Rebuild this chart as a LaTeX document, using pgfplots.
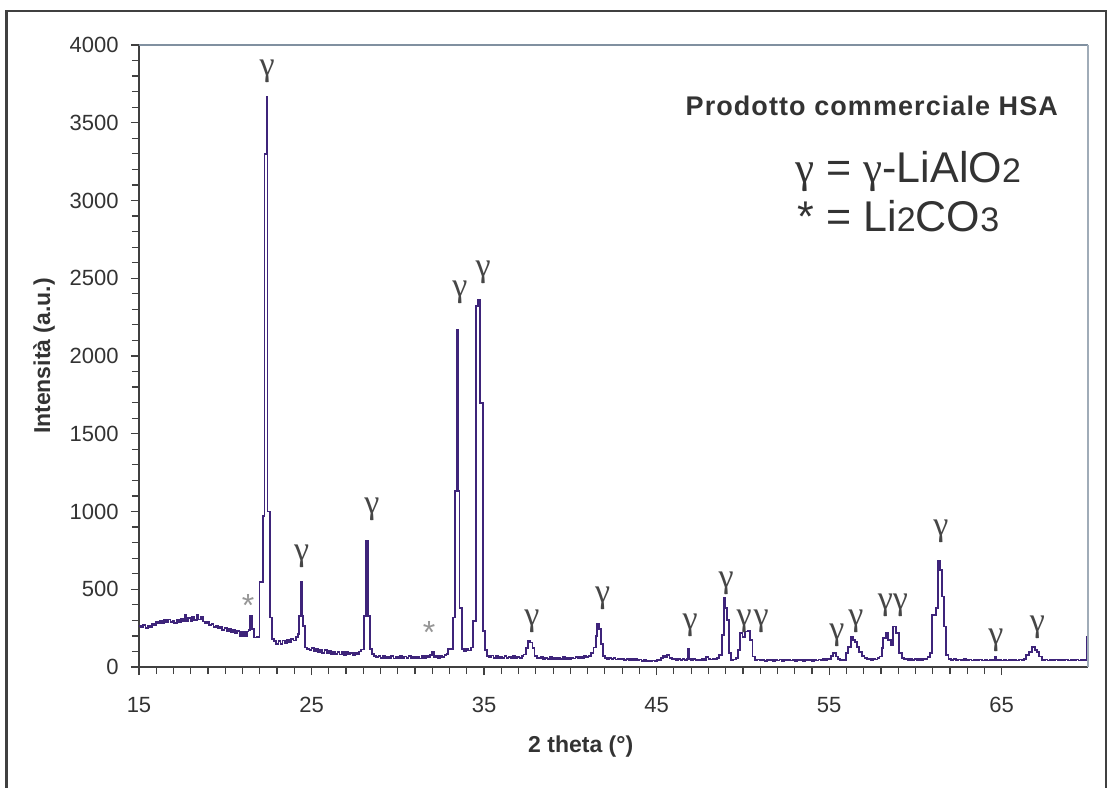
\documentclass[border=0pt]{standalone}
\usepackage{fontspec}
\setmainfont{Liberation Sans}
\newfontfamily\greekfont{Liberation Serif}
\usepackage{pgfplots}
\pgfplotsset{compat=1.18}

\definecolor{xrdline}{RGB}{62,36,122}
\definecolor{txtgray}{RGB}{51,51,51}
\definecolor{labgray}{RGB}{70,70,70}
\definecolor{stargray}{RGB}{150,150,150}
\definecolor{frametop}{RGB}{128,144,160}
\definecolor{frameright}{RGB}{160,172,184}

\newcommand{\gam}{{\greekfont γ}}
\newcommand{\glab}[2]{\node[labgray,font=\fontsize{17}{17}\selectfont\greekfont,inner sep=0pt] at (axis cs:#1,#2) {γ};}
\newcommand{\slab}[2]{\node[stargray,font=\fontsize{16}{16}\selectfont,inner sep=0pt] at (axis cs:#1,#2) {*};}

\begin{document}
\begin{tikzpicture}[x=0.5pt,y=0.5pt]
\useasboundingbox (0,0) rectangle (1112,787);
\draw[line width=1.1pt,black!75] (6.5,-30) rectangle (1106,776);
\begin{axis}[
    at={(69.5pt,60pt)}, anchor=south west,
    scale only axis,
    width=474.5pt, height=311pt,
    xmin=15, xmax=70,
    ymin=0, ymax=4000,
    axis x line*=bottom,
    axis y line*=left,
    axis line style={black!75, line width=0.8pt},
    xtick={15,25,35,45,55,65},
    minor x tick num=9,
    ytick={0,500,...,4000},
    minor y tick num=4,
    tick align=outside,
    major tick length=4pt,
    minor tick length=3.5pt,
    tick style={black!75, line width=0.6pt},
    scaled y ticks=false,
    /pgf/number format/1000 sep={},
    /pgf/number format/assume math mode=true,
    tick label style={txtgray, font=\fontsize{11}{13}\selectfont, inner sep=0pt},
    xticklabel style={anchor=north, yshift=-11pt},
    yticklabel style={anchor=east, xshift=-6pt},
    clip=false,
]
\addplot[const plot, color=xrdline, line width=0.9pt] coordinates {
(15.00,262) (15.12,255) (15.25,268) (15.38,252) (15.50,265) (15.62,258) (15.75,275) (15.88,268)
(16.00,290) (16.10,280) (16.22,298) (16.35,283) (16.45,300) (16.58,286) (16.70,305) (16.82,288)
(16.95,298) (17.05,285) (17.18,305) (17.30,290) (17.42,312) (17.55,295) (17.65,335) (17.72,298)
(17.85,315) (17.98,292) (18.08,320) (18.20,300) (18.35,338) (18.45,305) (18.58,325) (18.70,292)
(18.82,280) (18.95,288) (19.08,268) (19.20,275) (19.32,258) (19.45,266) (19.58,250) (19.70,258)
(19.82,240) (19.95,252) (20.08,232) (20.20,246) (20.32,225) (20.45,238) (20.58,218) (20.70,230)
(20.82,196) (20.90,226) (21.00,196) (21.08,226) (21.18,198) (21.25,228) (21.35,240) (21.45,330)
(21.55,245) (21.65,190) (21.85,195) (21.98,545) (22.18,970) (22.27,3300) (22.42,3665) (22.45,1000)
(22.58,318) (22.70,180) (22.82,165) (22.95,150) (23.08,168) (23.20,148) (23.32,170) (23.45,152)
(23.58,172) (23.70,160) (23.82,178) (23.95,170) (24.08,192) (24.20,210) (24.28,330) (24.38,547)
(24.45,330) (24.52,264) (24.62,125) (24.75,118) (24.88,108) (25.00,122) (25.12,104) (25.25,116)
(25.38,96) (25.50,112) (25.62,92) (25.75,108) (25.88,88) (26.00,104) (26.12,85) (26.25,100)
(26.38,82) (26.50,98) (26.62,80) (26.75,96) (26.88,78) (27.00,94) (27.12,80) (27.25,92)
(27.38,78) (27.50,90) (27.62,84) (27.75,100) (27.88,112) (28.02,330) (28.16,812) (28.28,330)
(28.38,115) (28.50,82) (28.62,70) (28.75,66) (28.88,72) (29.00,58) (29.12,70) (29.25,56)
(29.38,68) (29.50,58) (29.62,72) (29.75,55) (29.88,66) (30.00,58) (30.12,70) (30.25,55)
(30.38,68) (30.50,60) (30.62,72) (30.75,56) (30.88,68) (31.00,58) (31.12,66) (31.25,55)
(31.38,70) (31.50,60) (31.62,72) (31.75,62) (31.88,75) (32.00,100) (32.08,65) (32.20,74)
(32.32,60) (32.45,70) (32.58,62) (32.70,78) (32.82,85) (32.92,114) (33.18,318) (33.32,1130)
(33.43,2166) (33.47,1130) (33.57,382) (33.70,114) (33.82,104) (33.95,118) (34.08,106) (34.22,125)
(34.35,296) (34.52,2320) (34.64,2360) (34.76,1700) (34.92,232) (35.05,110) (35.19,71) (35.30,62)
(35.42,74) (35.55,58) (35.68,70) (35.80,56) (35.92,66) (36.05,60) (36.18,72) (36.30,56)
(36.42,66) (36.55,58) (36.68,70) (36.80,55) (36.92,66) (37.05,60) (37.18,72) (37.28,80)
(37.42,120) (37.55,167) (37.68,157) (37.80,120) (37.92,71) (38.05,60) (38.18,55) (38.30,62)
(38.42,52) (38.55,60) (38.68,54) (38.80,62) (38.92,52) (39.05,58) (39.18,50) (39.30,60)
(39.42,54) (39.55,64) (39.68,52) (39.80,58) (39.92,52) (40.05,60) (40.18,55) (40.30,62)
(40.42,56) (40.55,66) (40.68,58) (40.80,70) (40.92,62) (41.05,72) (41.20,90) (41.34,125)
(41.48,200) (41.56,275) (41.65,243) (41.76,150) (41.88,71) (42.00,58) (42.12,52) (42.25,60)
(42.38,50) (42.50,56) (42.62,48) (42.75,55) (42.88,48) (43.00,54) (43.12,46) (43.25,52)
(43.38,46) (43.50,50) (43.62,44) (43.75,50) (43.88,42) (44.00,48) (44.12,40) (44.25,46)
(44.38,38) (44.50,40) (44.62,36) (44.75,42) (44.88,40) (45.00,48) (45.12,44) (45.25,58)
(45.38,70) (45.50,62) (45.62,78) (45.75,60) (45.88,50) (46.00,55) (46.12,46) (46.25,52)
(46.38,44) (46.50,50) (46.62,46) (46.75,52) (46.80,114) (46.87,52) (47.00,46) (47.12,50)
(47.25,44) (47.38,48) (47.50,44) (47.62,50) (47.75,46) (47.88,62) (48.00,52) (48.12,48)
(48.25,54) (48.38,50) (48.50,58) (48.62,77) (48.78,206) (48.90,442) (48.98,378) (49.08,303)
(49.18,88) (49.32,45) (49.45,48) (49.58,60) (49.70,110) (49.84,217) (49.98,191) (50.12,228)
(50.28,234) (50.42,174) (50.56,67) (50.70,45) (50.85,48) (51.00,42) (51.12,46) (51.25,40)
(51.38,46) (51.50,42) (51.62,48) (51.75,40) (51.88,46) (52.00,42) (52.12,48) (52.25,40)
(52.38,46) (52.50,42) (52.62,48) (52.75,42) (52.88,46) (53.00,40) (53.12,46) (53.25,42)
(53.38,48) (53.50,40) (53.62,44) (53.75,42) (53.88,48) (54.00,40) (54.12,46) (54.25,42)
(54.38,48) (54.50,44) (54.62,50) (54.75,44) (54.88,50) (55.00,52) (55.12,70) (55.22,88)
(55.38,67) (55.50,52) (55.62,46) (55.80,45) (55.98,90) (56.10,131) (56.25,195) (56.38,175)
(56.50,163) (56.62,130) (56.75,99) (56.90,72) (57.05,56) (57.18,48) (57.30,52) (57.42,46)
(57.55,52) (57.68,48) (57.80,56) (57.92,67) (58.05,120) (58.12,185) (58.27,217) (58.42,174)
(58.58,142) (58.72,260) (58.88,217) (59.05,88) (59.20,56) (59.32,48) (59.45,52) (59.58,46)
(59.70,50) (59.82,46) (59.95,50) (60.08,45) (60.20,50) (60.32,46) (60.45,49) (60.58,52)
(60.70,62) (60.82,88) (60.98,335) (61.18,378) (61.32,685) (61.40,625) (61.52,453) (61.64,260)
(61.78,77) (61.92,49) (62.05,45) (62.20,50) (62.35,44) (62.50,48) (62.65,44) (62.80,50)
(62.95,44) (63.10,48) (63.25,42) (63.40,46) (63.55,44) (63.70,48) (63.85,42) (64.00,46)
(64.15,42) (64.30,46) (64.45,44) (64.60,67) (64.66,44) (64.80,46) (64.95,42) (65.10,46)
(65.25,42) (65.40,48) (65.55,44) (65.70,46) (65.85,42) (66.00,48) (66.15,44) (66.30,50)
(66.42,77) (66.58,99) (66.75,131) (66.92,110) (67.05,99) (67.18,67) (67.32,45) (67.50,48)
(67.65,42) (67.80,46) (67.95,44) (68.10,48) (68.25,42) (68.40,46) (68.55,44) (68.70,48)
(68.85,42) (69.00,46) (69.15,44) (69.30,48) (69.45,42) (69.60,46) (69.75,44) (69.92,195)
(69.97,142) (70.00,142)
};
% top and right frame of the plot area
\draw[frametop, line width=0.9pt] (rel axis cs:0,1) -- (rel axis cs:1,1);
\draw[frameright, line width=1.1pt] (rel axis cs:1,0) -- (rel axis cs:1,1);
% peak labels
\glab{22.42}{3833}
\glab{24.43}{715}
\glab{28.5}{1011}
\glab{33.6}{2409}
\glab{34.94}{2538}
\glab{37.77}{292}
\glab{41.87}{442}
\glab{46.94}{270}
\glab{49.03}{540}
\glab{50.07}{296}
\glab{51.06}{296}
\glab{55.45}{206}
\glab{56.55}{296}
\glab{58.25}{399}
\glab{59.12}{399}
\glab{61.47}{870}
\glab{64.66}{174}
\glab{67.06}{258}
\slab{21.32}{393}
\slab{31.81}{225}
% legend text
\node[anchor=base east, txtgray, font=\fontsize{13.5}{15}\selectfont\bfseries\addfontfeatures{LetterSpace=4}, inner sep=0pt]
  at (axis cs:68.28,3545) {Prodotto commerciale HSA};
\node[anchor=base west, txtgray, font=\fontsize{21.5}{24}\selectfont, inner sep=0pt]
  at (axis cs:53.03,3118) {\gam{} = \gam-LiAlO{\fontsize{17}{17}\selectfont 2}};
\node[anchor=base west, txtgray, font=\fontsize{21.5}{24}\selectfont, inner sep=0pt]
  at (axis cs:53.15,2802) {* = Li{\fontsize{17}{17}\selectfont 2}CO{\fontsize{17}{17}\selectfont 3}};
% axis titles
\node[txtgray, font=\fontsize{11.5}{13}\selectfont\bfseries, inner sep=0pt]
  at (axis cs:40.6,-510) {2 theta (°)};
\node[txtgray, font=\fontsize{11.5}{13}\selectfont\bfseries, inner sep=0pt, rotate=90]
  at (rel axis cs:-0.1,0.5) {Intensità (a.u.)};
\end{axis}
\end{tikzpicture}
\end{document}
